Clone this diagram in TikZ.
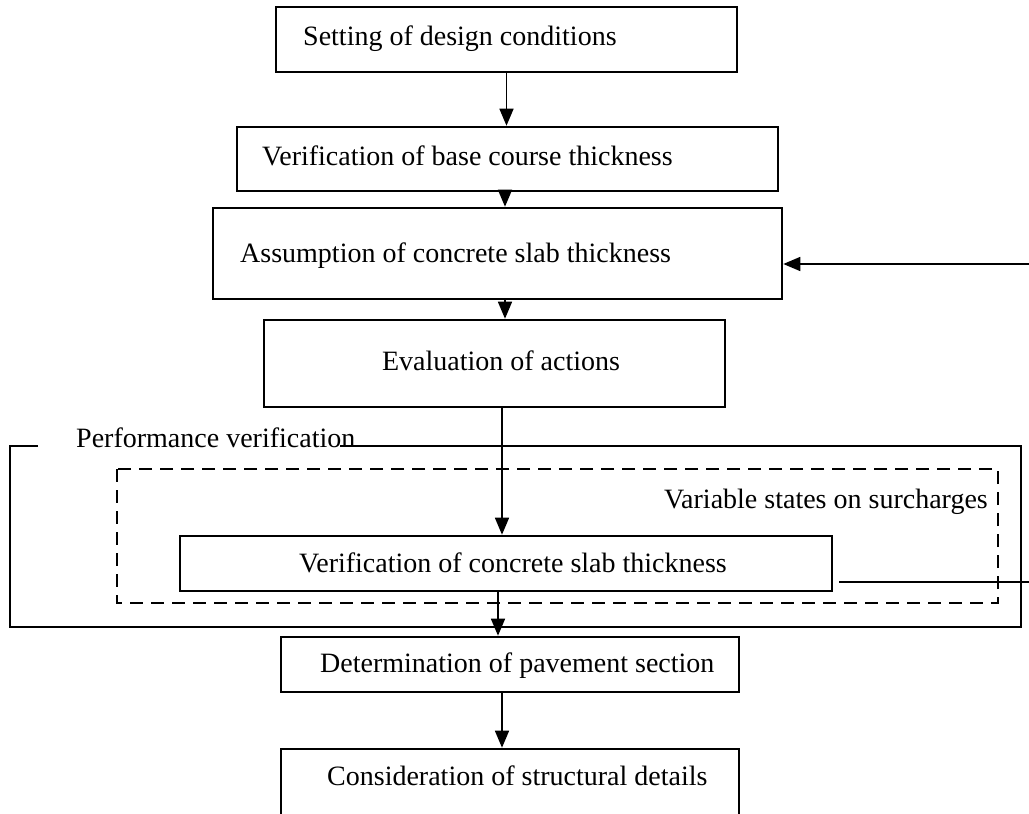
\documentclass[tikz,border=0pt]{standalone}
\usepackage{fontspec}
\setmainfont{Liberation Serif}
\usetikzlibrary{arrows.meta}
\begin{document}
\begin{tikzpicture}[x=1pt,y=-1pt,
 box/.style={draw,line width=2.6pt,inner sep=0pt},
 lbl/.style={inner sep=0pt,anchor=base west,font=\fontsize{28}{33}\selectfont},
 arr/.style={line width=1.6pt,-{Triangle[length=17pt,width=14pt]}},
 ln/.style={line width=1.6pt},
 frame/.style={line width=2.4pt},
 dbox/.style={line width=2.6pt,dash pattern=on 13pt off 8pt}]
\useasboundingbox (0,0) rectangle (1029,814);
\clip (0,0) rectangle (1029,814);
% boxes
\node[box,minimum width=461pt,minimum height=65pt] (b1) at (506.5,39.5) {};
\node[box,minimum width=541pt,minimum height=64pt] (b2) at (507.5,159) {};
\node[box,minimum width=569pt,minimum height=91pt] (b3) at (497.5,253.5) {};
\node[box,minimum width=461pt,minimum height=87pt] (b4) at (494.5,363.5) {};
\node[box,minimum width=652pt,minimum height=55pt] (b5) at (506,563.5) {};
\node[box,minimum width=458pt,minimum height=55pt] (b6) at (510,664.5) {};
\node[box,minimum width=458pt,minimum height=91pt] (b7) at (510,794.5) {};
% texts
\node[lbl] (t1) at (303,45) {Setting of design conditions};
\node[lbl] (t2) at (262,165) {Verification of base course thickness};
\node[lbl] (t3) at (240,262) {Assumption of concrete slab thickness};
\node[lbl,anchor=base] (t4) at (501,370) {Evaluation of actions};
\node[lbl] (t5) at (299,572) {Verification of concrete slab thickness};
\node[lbl] (t6) at (320,672) {Determination of pavement section};
\node[lbl] (t7) at (327,785) {Consideration of structural details};
\node[lbl] (tp) at (76,447) {Performance verification};
\node[lbl,anchor=base east] (tv) at (988,508) {Variable states on surcharges};
% frames
\draw[frame] (38,446) -- (10,446) -- (10,627) -- (1021,627) -- (1021,446) -- (340,446);
\draw[dbox] (117,469) rectangle (998,603);
% arrows
\coordinate (xa) at (505,0);
\coordinate (xb) at (502,0);
\coordinate (xc) at (498,0);
\draw[arr] (b1.south) -- (b1.south |- b2.north);
\draw[arr] (b2.south -| xa) -- (b3.north -| xa);
\draw[arr] (b3.south -| xa) -- (b4.north -| xa);
\draw[arr] (b4.south -| xb) -- (b5.north -| xb);
\draw[arr] (b5.south -| xc) -- (b6.north -| xc);
\draw[arr] (b6.south -| xb) -- (b7.north -| xb);
% feedback
\coordinate (fbR) at (1029,264);
\draw[arr] (fbR) -- (fbR -| b3.east);
\coordinate (lnL) at (839,582);
\coordinate (lnR) at (1029,582);
\draw[ln] (lnL) -- (lnR);
\end{tikzpicture}
\end{document}
